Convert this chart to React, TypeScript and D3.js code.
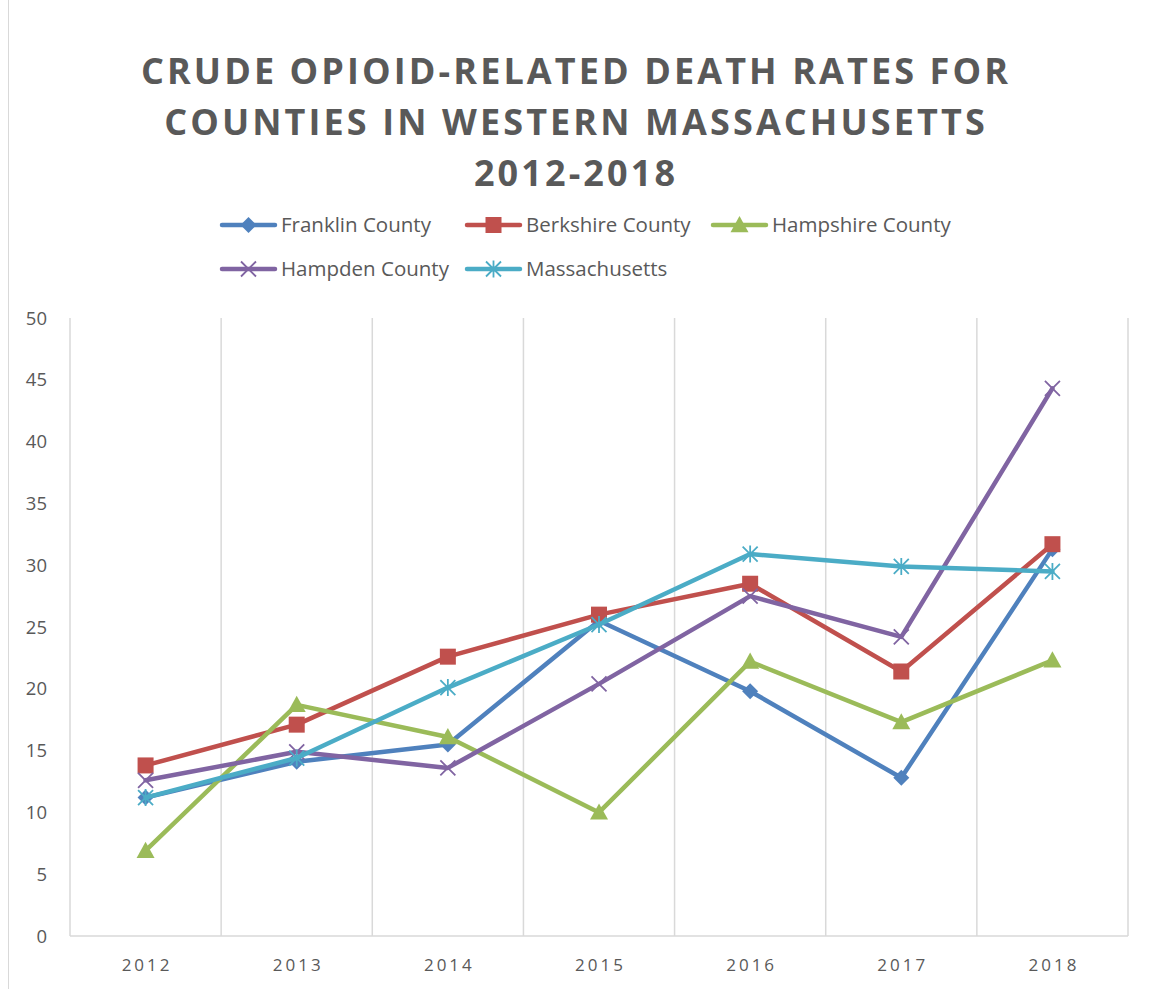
import React from "react";
import * as d3 from "d3";

const years = ["2012", "2013", "2014", "2015", "2016", "2017", "2018"];
const franklin = [11.2, 14.1, 15.5, 25.5, 19.8, 12.8, 31.3];
const berkshire = [13.8, 17.1, 22.6, 26.0, 28.5, 21.4, 31.7];
const hampshire = [6.9, 18.7, 16.1, 10.0, 22.2, 17.3, 22.3];
const hampden = [12.6, 14.9, 13.6, 20.4, 27.5, 24.2, 44.3];
const massachusetts = [11.2, 14.4, 20.1, 25.2, 30.9, 29.9, 29.5];
const yTicks = [0, 5, 10, 15, 20, 25, 30, 35, 40, 45, 50];
const titleLines = [
  "CRUDE OPIOID-RELATED DEATH RATES FOR",
  "COUNTIES IN WESTERN MASSACHUSETTS",
  "2012-2018",
];

const series = [
  { name: "Franklin County", values: franklin, color: "#4F81BD", marker: "diamond" },
  { name: "Berkshire County", values: berkshire, color: "#C0504D", marker: "square" },
  { name: "Hampshire County", values: hampshire, color: "#9BBB59", marker: "triangle" },
  { name: "Hampden County", values: hampden, color: "#8064A2", marker: "x" },
  { name: "Massachusetts", values: massachusetts, color: "#4BACC6", marker: "star" },
];

const W = 1153;
const H = 989;
const left = 70;
const right = 1128;
const top = 318;
const bottom = 936;

function Marker({ type, x, y, color }: { type: string; x: number; y: number; color: string }) {
  if (type === "diamond") {
    const s = 8;
    return <path d={`M${x},${y - s}L${x + s},${y}L${x},${y + s}L${x - s},${y}Z`} fill={color} />;
  }
  if (type === "square") {
    const s = 8;
    return <rect x={x - s} y={y - s} width={2 * s} height={2 * s} fill={color} />;
  }
  if (type === "triangle") {
    const s = 9;
    return <path d={`M${x},${y - s}L${x + s},${y + s * 0.8}L${x - s},${y + s * 0.8}Z`} fill={color} />;
  }
  if (type === "x") {
    const s = 7.5;
    return (
      <path
        d={`M${x - s},${y - s}L${x + s},${y + s}M${x - s},${y + s}L${x + s},${y - s}`}
        stroke={color}
        strokeWidth={1.8}
      />
    );
  }
  const s = 7.5;
  return (
    <path
      d={`M${x - s},${y - s}L${x + s},${y + s}M${x - s},${y + s}L${x + s},${y - s}M${x},${y - s - 1}L${x},${y + s + 1}`}
      stroke={color}
      strokeWidth={1.8}
    />
  );
}

export default function App() {
  const x = d3.scaleBand<string>().domain(years).range([left, right]);
  const y = d3.scaleLinear().domain([0, 50]).range([bottom, top]);
  const line = d3
    .line<number>()
    .x((_, i) => (x(years[i]) as number) + x.bandwidth() / 2)
    .y((d) => y(d));

  const gridXs = years.map((yr) => x(yr) as number).concat([right]);

  const legendPos = [
    { lx: 222, ly: 225 },
    { lx: 467, ly: 225 },
    { lx: 713, ly: 225 },
    { lx: 222, ly: 269 },
    { lx: 467, ly: 269 },
  ];

  const font = "'Open Sans', 'Noto Sans', sans-serif";

  return (
    <svg
      width={W}
      height={H}
      style={{ position: "absolute", left: 0, top: 0, background: "#fff" }}
    >
      <rect x={0} y={0} width={W} height={H} fill="#fff" />
      <line x1={8.5} x2={8.5} y1={0} y2={H} stroke="#d9d9d9" strokeWidth={1} />

      {titleLines.map((t, i) => (
        <text
          key={i}
          x={576}
          y={84 + i * 51}
          textAnchor="middle"
          fontFamily={font}
          fontWeight={700}
          fontSize={36}
          letterSpacing={3.1}
          fill="#595959"
        >
          {t}
        </text>
      ))}

      {series.map((s, i) => {
        const p = legendPos[i];
        return (
          <g key={s.name}>
            <line x1={p.lx} x2={p.lx + 53} y1={p.ly} y2={p.ly} stroke={s.color} strokeWidth={4.5} strokeLinecap="round" />
            <Marker type={s.marker} x={p.lx + 26.5} y={p.ly} color={s.color} />
            <text x={p.lx + 59} y={p.ly + 7} fontFamily={font} fontSize={20.5} fill="#595959">
              {s.name}
            </text>
          </g>
        );
      })}

      {gridXs.map((gx, i) => (
        <line key={i} x1={gx} x2={gx} y1={top} y2={bottom} stroke="#d9d9d9" strokeWidth={1.5} />
      ))}
      <line x1={left} x2={right} y1={bottom} y2={bottom} stroke="#d9d9d9" strokeWidth={1.5} />

      {yTicks.map((t) => (
        <text
          key={t}
          x={47}
          y={y(t) + 6.5}
          textAnchor="end"
          fontFamily={font}
          fontSize={18.5}
          fill="#595959"
        >
          {t}
        </text>
      ))}

      {years.map((yr) => (
        <text
          key={yr}
          x={(x(yr) as number) + x.bandwidth() / 2 + 1.5}
          y={971}
          textAnchor="middle"
          fontFamily={font}
          fontSize={17}
          letterSpacing={3}
          fill="#595959"
        >
          {yr}
        </text>
      ))}

      {series.map((s) => (
        <g key={s.name}>
          <path d={line(s.values) || ""} fill="none" stroke={s.color} strokeWidth={4.5} strokeLinejoin="round" strokeLinecap="round" />
          {s.values.map((v, i) => (
            <Marker
              key={i}
              type={s.marker}
              x={(x(years[i]) as number) + x.bandwidth() / 2}
              y={y(v)}
              color={s.color}
            />
          ))}
        </g>
      ))}
    </svg>
  );
}
